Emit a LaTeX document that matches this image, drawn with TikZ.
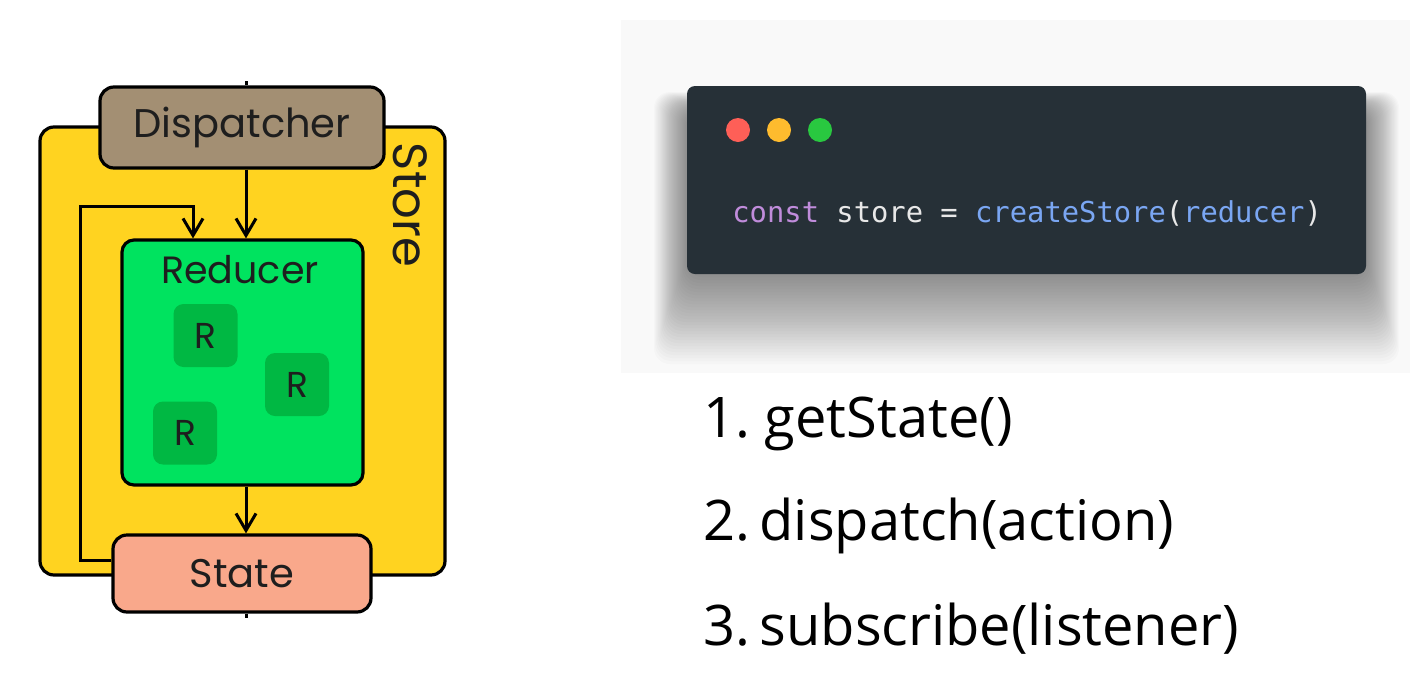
\documentclass[tikz,border=0pt]{standalone}
\usepackage{fontspec}
\setmainfont{Poppins}
\newfontfamily\codefont{DejaVu Sans Mono}
\newfontfamily\listfont{Open Sans}
\usetikzlibrary{arrows.meta}
\definecolor{storeY}{HTML}{FFD320}
\definecolor{dispC}{HTML}{A38F73}
\definecolor{redG}{HTML}{00E35F}
\definecolor{rBox}{HTML}{00B843}
\definecolor{stateC}{HTML}{F9A88B}
\definecolor{codeBg}{HTML}{263037}
\definecolor{dotR}{HTML}{FE5F57}
\definecolor{dotY}{HTML}{FEBB2E}
\definecolor{dotG}{HTML}{29C840}
\definecolor{kwP}{HTML}{C08CDB}
\definecolor{fnB}{HTML}{7AA6F2}
\definecolor{txW}{HTML}{E8E8E8}
\definecolor{txK}{HTML}{1E1E1E}
\begin{document}
\begin{tikzpicture}[x=0.5pt,y=-0.5pt,
  boxline/.style={draw=black,line width=1.6pt},
  flow/.style={draw=black,line width=1.5pt,-{Straight Barb[length=8.5pt,width=10pt,line width=1.5pt]}},
  lbl/.style={font=\fontsize{20}{24}\selectfont,text=txK},
  rlbl/.style={font=\fontsize{18}{21}\selectfont,text=txK},
  code/.style={font=\codefont\fontsize{14.4}{17}\selectfont,anchor=base west,inner sep=0pt},
  listitem/.style={font=\listfont\fontsize{28}{32}\selectfont,anchor=base west,inner sep=0pt,text=black}]
\useasboundingbox (0,0) rectangle (1410,697);
\fill[white] (0,0) rectangle (1410,697);
% light background behind code window
\fill[gray!5] (621,20) rectangle (1410,373);
% soft shadow, mostly below the window
\foreach \i in {1,...,30}{
  \fill[black,opacity=0.016,rounded corners=8pt]
    (687-1.1*\i,110-0.6*\i) rectangle (1366+1.1*\i,274+3*\i);
}
% code window
\node[fill=codeBg,rounded corners=4pt,minimum width=339.5pt,minimum height=94pt,inner sep=0pt] (win) at (1026.5,180) {};
\fill[dotR] (738,130) circle (12);
\fill[dotY] (779,130) circle (12);
\fill[dotG] (820,130) circle (12);
\node[code] (codeline) at (732,222) {\textcolor{kwP}{const}\textcolor{txW}{\ store\ =\ }\textcolor{fnB}{createStore}\textcolor{txW}{(}\textcolor{fnB}{reducer}\textcolor{txW}{)}};
% list
\node[listitem] (l1) at (703,437) {1.\ getState()};
\node[listitem] (l2) at (703,540) {2.\,dispatch(action)};
\node[listitem] (l3) at (703,645) {3.\,subscribe(listener)};
% Store
\node[boxline,fill=storeY,rounded corners=7pt,minimum width=202.5pt,minimum height=224pt,inner sep=0pt] (store) at (242.5,351) {};
\node[font=\fontsize{24}{28}\selectfont,text=txK,rotate=-90] (storelbl) at (410,205) {Store};
% Reducer
\node[boxline,fill=redG,rounded corners=6pt,minimum width=120.5pt,minimum height=122.5pt,inner sep=0pt] (reducer) at (242.5,362.5) {};
\node[font=\fontsize{19}{23}\selectfont,text=txK] (reducerlbl) at (240,270) {Reducer};
\node[fill=rBox,rounded corners=5pt,minimum width=32pt,minimum height=31.5pt,inner sep=0pt,rlbl] (r1) at (205.5,335.5) {R};
\node[fill=rBox,rounded corners=5pt,minimum width=32pt,minimum height=31.5pt,inner sep=0pt,rlbl] (r2) at (297,384.5) {R};
\node[fill=rBox,rounded corners=5pt,minimum width=32pt,minimum height=31.5pt,inner sep=0pt,rlbl] (r3) at (185,433) {R};
% Dispatcher
\node[boxline,fill=dispC,rounded corners=7pt,minimum width=142pt,minimum height=40.5pt,inner sep=0pt,lbl] (disp) at (242,127.5) {Dispatcher};
% State
\node[boxline,fill=stateC,rounded corners=7pt,minimum width=129pt,minimum height=38.5pt,inner sep=0pt,lbl] (state) at (242,573.5) {State};
% ticks
\coordinate (tA) at (246,81);
\coordinate (tB) at (246,618);
\draw[line width=1.5pt] (tA) -- (disp.north -| tA);
\draw[line width=1.5pt] (state.south -| tB) -- (tB);
% arrows
\coordinate (dx) at (246,0);
\draw[flow] (disp.south -| dx) -- (reducer.north -| dx);
\draw[flow] (reducer.south -| dx) -- (state.north -| dx);
\coordinate (lp1) at (80,560);
\coordinate (lp2) at (80,206);
\coordinate (lp3) at (193,206);
\draw[flow] (state.west |- lp1) -- (lp1) -- (lp2) -- (lp3) -- (reducer.north -| lp3);
\end{tikzpicture}
\end{document}
